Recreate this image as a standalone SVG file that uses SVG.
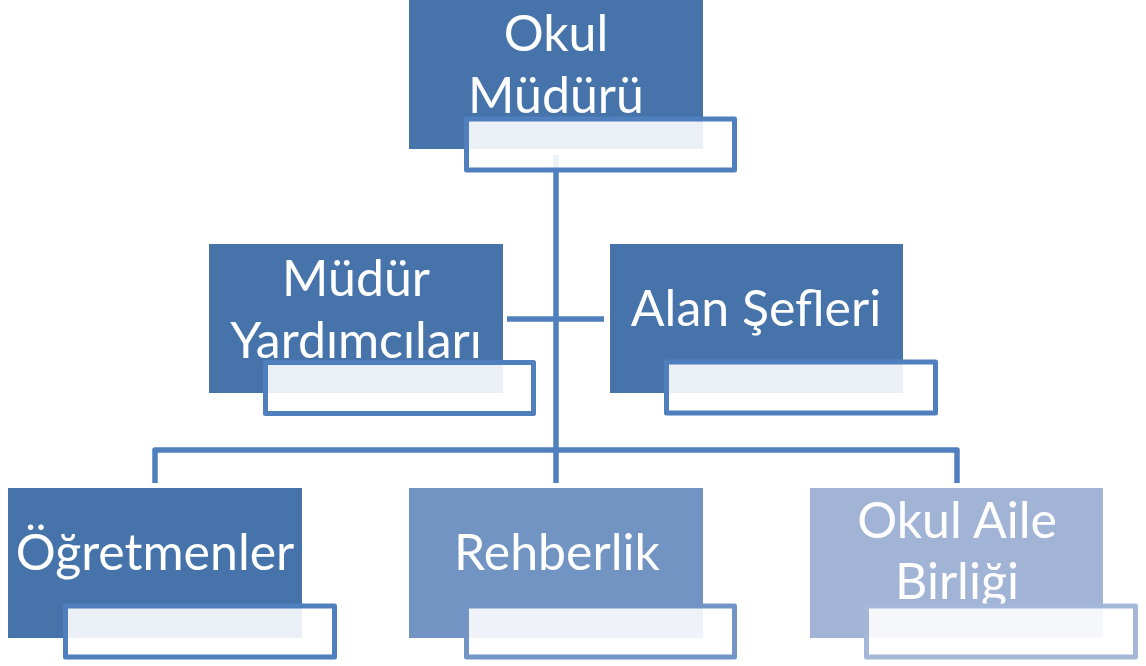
<svg xmlns="http://www.w3.org/2000/svg" width="1146" height="666" viewBox="0 0 1146 666">
<style>
.bg{fill:#ffffff}
.conn{fill:none;stroke:#4F7FBD;stroke-width:5.5;stroke-linejoin:round}
.n1{fill:#4674AA}
.n2{fill:#7294C3}
.n3{fill:#A2B4D6}
.ov{fill:#ffffff;fill-opacity:0.89;stroke:#4F7FBD;stroke-width:5;stroke-linejoin:round}
.ov2{fill:#ffffff;fill-opacity:0.89;stroke:#7395C6;stroke-width:5;stroke-linejoin:round}
.ov3{fill:#ffffff;fill-opacity:0.89;stroke:#A4B7D9;stroke-width:5;stroke-linejoin:round}
.t{font-family:Lato,"Liberation Sans",sans-serif;font-size:50px;fill:#ffffff;text-anchor:middle}
</style>
<rect class="bg" x="0" y="0" width="1146" height="666"/>
<g id="connectors">
<path class="conn" d="M556,155 V483"/>
<path class="conn" d="M507,319 H604"/>
<path class="conn" d="M155,483 V450 H957 V483"/>
</g>
<g id="okul-muduru">
<rect class="n1" x="409" y="0" width="294" height="149"/>
<text class="t" x="556" y="51">Okul</text>
<text class="t" x="556" y="113">Müdürü</text>
<rect class="ov" x="466.5" y="119" width="268" height="51"/>
</g>
<g id="mudur-yardimcilari">
<rect class="n1" x="209" y="244" width="294" height="149"/>
<text class="t" x="356" y="296">Müdür</text>
<text class="t" x="356" y="358">Yardımcıları</text>
<rect class="ov" x="265.5" y="362.5" width="268" height="51"/>
</g>
<g id="alan-sefleri">
<rect class="n1" x="610" y="244" width="293" height="149"/>
<text class="t" x="756" y="326">Alan Şefleri</text>
<rect class="ov" x="666.5" y="362" width="269" height="51"/>
</g>
<g id="ogretmenler">
<rect class="n1" x="8" y="488" width="294" height="150"/>
<text class="t" x="155" y="570">Öğretmenler</text>
<rect class="ov" x="65.5" y="606" width="269" height="51"/>
</g>
<g id="rehberlik">
<rect class="n2" x="409" y="488" width="294" height="150"/>
<text class="t" x="557" y="570">Rehberlik</text>
<rect class="ov2" x="466.5" y="606" width="268" height="51"/>
</g>
<g id="okul-aile-birligi">
<rect class="n3" x="810" y="488" width="293" height="150"/>
<text class="t" x="957" y="538">Okul Aile</text>
<text class="t" x="957" y="599">Birliği</text>
<rect class="ov3" x="866.5" y="606" width="269" height="51"/>
</g>
</svg>
